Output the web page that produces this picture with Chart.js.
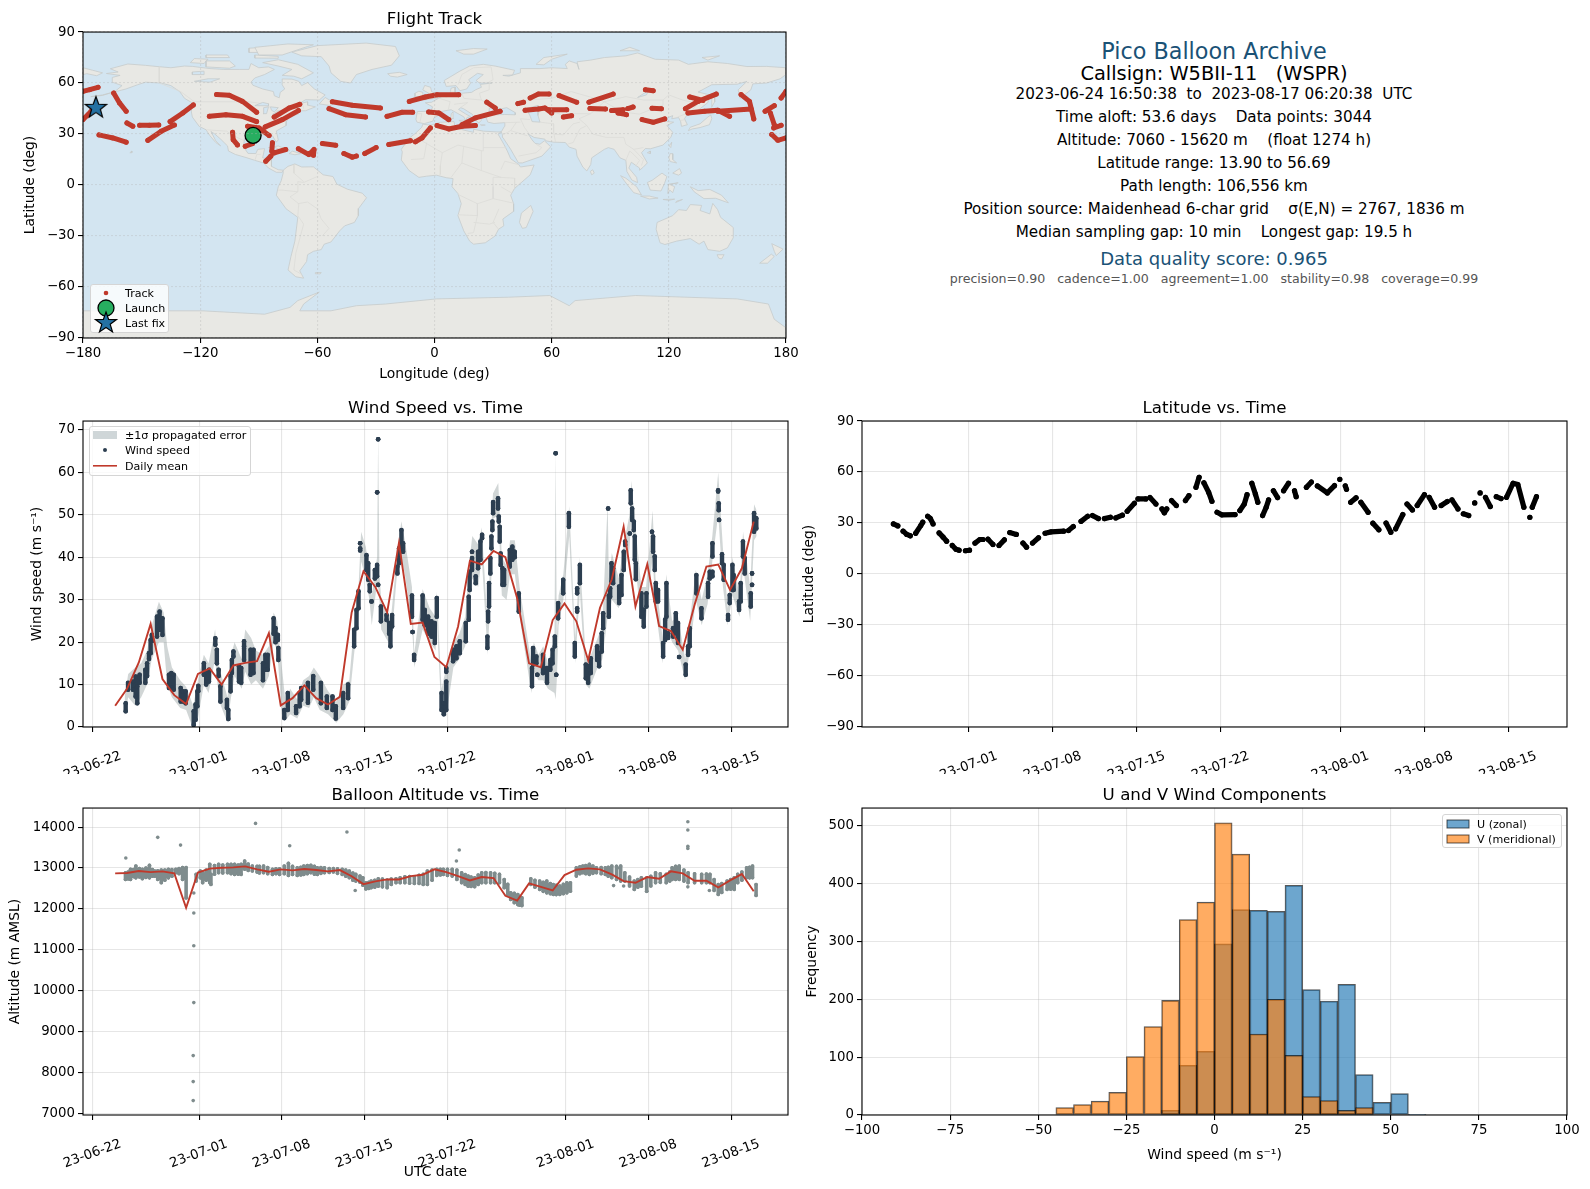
<!DOCTYPE html>
<html>
<head>
<meta charset="utf-8">
<title>Pico Balloon Archive</title>
<script src="https://cdn.jsdelivr.net/npm/chart.js@4"></script>
<style>
html, body { margin: 0; padding: 0; background: #fff; }
body { position: relative; width: 1590px; height: 1189px; overflow: hidden; font-family: "DejaVu Sans", sans-serif; }
canvas { position: absolute; }
.line { position: absolute; left: 1214px; transform: translate(-50%, -50%); white-space: pre; color: #000; }
.legend { position: absolute; background: rgba(255,255,255,.8); border: 1px solid #d5d5d5; border-radius: 3px; box-sizing: border-box; font-size: 11.1px; color: #000; }
.legend div { position: absolute; white-space: pre; transform: translateY(-50%); }
.legend svg { position: absolute; overflow: visible; }
</style>
</head>
<body>
<canvas id="mapChart" width="800" height="392" style="left:0px;top:0px"></canvas>
<canvas id="windChart" width="800" height="385" style="left:0px;top:389px"></canvas>
<canvas id="latChart" width="790" height="385" style="left:800px;top:389px"></canvas>
<canvas id="altChart" width="800" height="413" style="left:0px;top:776px"></canvas>
<canvas id="histChart" width="790" height="413" style="left:800px;top:776px"></canvas>

<div id="info"></div>

<div class="legend" style="left:90px;top:284px;width:79px;height:49px">
  <svg style="left:14px;top:7px" width="2" height="2"><circle cx="1" cy="1" r="2.3" fill="#c0392b"/></svg>
  <div style="left:34px;top:8px">Track</div>
  <svg style="left:15px;top:23px" width="1" height="1"><circle cx="0" cy="0" r="8" fill="#27ae60" stroke="#000" stroke-width="1.3"/></svg>
  <div style="left:34px;top:23px">Launch</div>
  <svg style="left:15px;top:38px" width="1" height="1"><polygon points="0,-11 2.6,-3.5 10.5,-3.4 4.2,1.3 6.5,8.9 0,4.4 -6.5,8.9 -4.2,1.3 -10.5,-3.4 -2.6,-3.5" fill="#2471a3" stroke="#000" stroke-width="1.2"/></svg>
  <div style="left:34px;top:38px">Last fix</div>
</div>
<div class="legend" style="left:89px;top:426px;width:162px;height:50px">
  <svg style="left:3px;top:4px" width="24" height="8"><rect width="24" height="8" fill="#cfd6d8"/></svg>
  <div style="left:35px;top:8px">±1σ propagated error</div>
  <svg style="left:15px;top:23px" width="1" height="1"><circle cx="0" cy="0" r="2" fill="#2c3e50"/></svg>
  <div style="left:35px;top:23px">Wind speed</div>
  <svg style="left:3px;top:38px" width="24" height="2"><rect width="24" height="1.6" fill="#c0392b"/></svg>
  <div style="left:35px;top:39px">Daily mean</div>
</div>
<div class="legend" style="left:1442px;top:814px;width:120px;height:34px">
  <svg style="left:4px;top:5px" width="22" height="8"><rect width="22" height="8" fill="rgba(31,119,180,.65)" stroke="rgba(0,0,0,.65)"/></svg>
  <div style="left:34px;top:9px">U (zonal)</div>
  <svg style="left:4px;top:20px" width="22" height="8"><rect width="22" height="8" fill="rgba(255,127,14,.65)" stroke="rgba(0,0,0,.65)"/></svg>
  <div style="left:34px;top:24px">V (meridional)</div>
</div>

<script>
// ---- data ----
const dateTicks = [0, 9, 16, 23, 30, 40, 47, 54];
const dateLabels = ["23-06-22", "23-07-01", "23-07-08", "23-07-15", "23-07-22", "23-08-01", "23-08-08", "23-08-15"];
const latDateTicks = [9, 16, 23, 30, 40, 47, 54];
const latDateLabels = ["23-07-01", "23-07-08", "23-07-15", "23-07-22", "23-08-01", "23-08-08", "23-08-15"];
const lonTicks = [-180, -120, -60, 0, 60, 120, 180];
const latTicks = [-90, -60, -30, 0, 30, 60, 90];
const windTicks = [0, 10, 20, 30, 40, 50, 60, 70];
const altTicks = [7000, 8000, 9000, 10000, 11000, 12000, 13000, 14000];
const speedTicks = [-100, -75, -50, -25, 0, 25, 50, 75, 100];
const freqTicks = [0, 100, 200, 300, 400, 500];

const infoLines = [
  ["Pico Balloon Archive", 50.7, 22.3, "#1a5276"],
  ["Callsign: W5BII-11   (WSPR)", 73, 19.4, "#000"],
  ["2023-06-24 16:50:38  to  2023-08-17 06:20:38  UTC", 94, 15.2, "#000"],
  ["Time aloft: 53.6 days    Data points: 3044", 117, 15.2, "#000"],
  ["Altitude: 7060 - 15620 m    (float 1274 h)", 140, 15.2, "#000"],
  ["Latitude range: 13.90 to 56.69", 163, 15.2, "#000"],
  ["Path length: 106,556 km", 186, 15.2, "#000"],
  ["Position source: Maidenhead 6-char grid    σ(E,N) = 2767, 1836 m", 209, 15.2, "#000"],
  ["Median sampling gap: 10 min    Longest gap: 19.5 h", 232, 15.2, "#000"],
  ["Data quality score: 0.965", 257.5, 18, "#1a5276"],
  ["precision=0.90   cadence=1.00   agreement=1.00   stability=0.98   coverage=0.99", 278, 12.6, "#555"]
];

// daily means, one per day
const dailyDays = [1.9,2.9,3.9,4.9,5.9,6.9,7.9,8.9,9.9,10.9,11.9,12.9,13.9,14.9,15.9,16.9,17.9,18.9,19.9,20.9,21.9,22.9,23.9,24.9,25.9,26.9,27.9,28.9,29.9,30.9,31.9,32.9,33.9,34.9,35.9,36.9,37.9,38.9,39.9,40.9,41.9,42.9,43.9,44.9,45.9,46.9,47.9,48.9,49.9,50.9,51.9,52.9,53.9,54.9,55.9];
const windDaily = [5,9,15.2,24.3,11.3,7.5,5.4,12.5,13.8,10,14.5,15.1,15.5,22.1,5.1,6.8,9.8,6.8,5.3,7.1,27,36.7,33,27,43.4,24.3,24.6,16.5,14.1,23.7,39.2,38.3,41.5,40,30.3,15,14.1,25.2,29.1,24.9,15.7,28.1,34.8,47.2,28.4,38.4,23.8,22.6,18.2,28.8,37.8,38.3,32.3,37.4,48.4];
const altDaily = [12870,12877,12926,12900,12918,12870,12025,12890,12984,13005,13015,13040,12967,12910,12967,12943,12975,12950,12918,12950,12800,12606,12672,12721,12721,12803,12836,12967,12900,12803,12697,12779,12754,12320,12205,12623,12541,12450,12828,12959,12992,12967,12844,12680,12640,12779,12738,12918,12869,12689,12689,12525,12697,12852,12434];

// wind speed readings: [day, lowest, highest] of each run of samples
const windRuns = [
  [2.79,3.7,5.6],[2.99,8.8,10.4],[3.4,8.8,10.7],[3.63,7.2,11.9],[3.77,5.6,9.6],[3.97,10.4,12.3],[4.45,10.4,13.5],[4.6,12,15],[4.76,16,17.4],[4.9,17.4,20.5],[5,20.2,21.7],
  [5.44,21.3,26],[5.66,22.9,27.2],[5.9,21.7,25.6],[6.45,9.2,12.3],[6.65,9.2,12.7],[6.85,8.8,12.3],[7.44,6,9.2],[7.63,6,8.4],[7.86,5.6,8.4],[8.54,0.5,3.7],[8.7,1.7,5.3],[8.85,4.9,8.4],[8.93,8.4,9.7],
  [9.4,12.3,15],[9.6,10,13],[9.83,10.7,13.5],[10.37,19.4,20.9],[10.5,15,18.2],[10.65,12,13.5],[10.8,6,9.6],[11.35,4.5,6.4],[11.47,1.9,4],[11.66,8.4,12],[11.77,12.7,15.8],[11.9,16.6,17.8],
  [12.37,10.7,14.3],[12.56,10.4,13.9],[12.8,15.8,18.6],[12.8,19,20.2],[13.35,12.3,18.2],[13.6,12.7,18.2],[14.4,11,15],[14.6,13.5,17],[14.8,13.5,17],[15.3,22,25.6],[15.46,20,23.3],[15.66,20.5,21.7],[15.7,15.8,18.6],
  [16.2,2.1,4],[16.5,4,8],[17.2,3.3,4.9],[17.5,4.9,8],[17.63,6.4,9.2],[18.2,5.7,10.4],[18.65,8.8,12],[19.3,5.6,10.4],[19.8,4.5,7.2],[20.28,4,7.2],[20.56,2,4.9],[21.18,4.5,8],[21.6,6.8,10],
  [22.11,19,22.9],[22.31,23.3,27.6],[22.48,28,32],[22.62,41.6,42.1],[22.62,43.3,43.3],[23.15,37,40.5],[23.3,34.7,38.6],[23.43,32,33.5],[23.58,29.6,29.6],[23.86,35,37],[24.05,35.5,38.2],[24.06,55.3,55.3],[24.14,67.8,67.8],[24.14,33.5,33.5],
  [24.37,24.9,28.4],[24.85,25.2,26.4],[25.07,22,24.5],[25.18,19,22.9],[25.32,23.7,26.4],[25.77,36.2,37.8],[25.91,38.6,42.1],[26.11,41.7,46.4],[26.25,41.3,43.3],[27,26,31],[27.05,22.4,22.4],[27.18,15.8,17],
  [27.9,25.3,31],[28.08,24,27.6],[28.37,22,26],[28.65,21.3,24.9],[28.93,19.8,24.5],[29.1,26,30.4],[29.5,4,8],[29.69,3,5.6],[29.9,4,10.7],[29.9,13,13.9],[30.48,15.5,18.2],[30.76,16.2,19],[31.04,17.4,20.2],
  [31.55,20.2,24.5],[31.8,25.3,30.7],[31.88,32.3,36.6],[32.08,37,39.8],[32.08,41.3,41.3],[32.39,33.9,35.5],[32.59,37.4,41.3],[32.79,39.4,43.7],[32.93,44.5,45.3],[33.38,18.6,21.3],[33.44,24.9,27.2],[33.52,28.4,33.9],[33.63,36.2,39.8],[33.72,42.1,44.9],[33.8,46.4,48.4],[33.86,50.4,53],
  [34.28,51.5,53.9],[34.34,48.4,49.6],[34.42,43.7,47.2],[34.5,38.2,40.9],[34.65,33.5,37.4],[34.79,33.5,37],[35.27,37.8,41.7],[35.49,39.4,42.5],[35.69,40,41.3],[36.03,27.2,31.5],[37.15,9.6,13.9],[37.24,14.7,18.6],[37.52,15,16.6],[37.6,12.3,12.3],[38.08,12.7,17],[38.42,10.4,13.9],[38.7,13.5,15.8],
  [38.89,15,18.2],[39.08,19,21.3],[39.15,64.5,64.5],[39.2,12.3,12.3],[39.36,25.6,29.2],[39.79,31.5,34.7],[40.27,47.2,50.4],[40.77,16.6,19.8],[40.97,27.2,28],[40.97,31.5,32.7],[41.2,33.9,38.2],[41.7,11.5,14.7],[41.9,10.4,14.3],[42.12,12.7,16.2],
  [42.66,15.8,19],[42.83,14.3,17.4],[43.05,17.8,22.1],[43.17,23.3,26.8],[43.59,51.5,51.5],[43.65,26,31],[43.76,30.7,32.7],[43.87,34.3,38.6],[44.01,33.9,37.4],[44.52,29.2,33.1],[44.72,31.1,35.8],[44.91,37,41.3],[45.03,42.9,43.7],[45.42,45.6,45.6],
  [45.5,52.7,55.8],[45.62,48.8,51.5],[45.76,46.4,48.4],[45.84,39.4,44.9],[45.93,34.8,38.6],[46.4,26,31.5],[46.6,23.7,27.6],[46.83,28.4,31.5],[47.3,46,46],[47.39,41.3,44.9],[47.53,37,40.2],[47.62,29.6,33.9],[47.81,29.6,32.3],
  [48.24,16.6,19.8],[48.41,20.5,25.3],[48.52,26,33.9],[48.66,21,22.1],[49.08,21.3,23.3],[49.31,22.1,26.8],[49.5,19.8,24.5],[49.59,16.5,16.5],[50.15,12.3,14.7],[50.35,17,19],[50.49,19,23.3],[51.05,31.5,35.8],[51.48,25.6,28],
  [52.04,30.7,33.9],[52.18,35,36.6],[52.41,35.5,36.6],[52.41,40.2,43.3],[52.89,55.5,55.8],[52.94,51.1,52.7],[52.97,48.8,48.8],[53.22,38.6,40.7],[53.36,34.7,38.2],[53.73,25.3,26.4],[53.87,29.2,31.1],[54.1,32.3,38.2],[54.2,32.3,35.8],
  [54.66,27.6,29.6],[54.8,29.6,33.9],[54.99,40.2,43.7],[55.14,36.2,39.8],[55.65,28.4,31.5],[55.76,33.5,33.5],[55.76,36.2,36.2],[55.93,46,50.4],[56.12,46.8,49.2]
];

// propagated error envelope
const bandDays = [2.7,3,3.6,4.1,4.6,5,5.6,6,6.3,6.7,7.4,7.9,8.5,8.9,9.4,9.8,10.35,10.7,11.4,11.7,12,12.6,12.9,13.4,13.8,14.4,14.9,15.3,15.6,16,16.3,16.7,17.3,17.8,18.3,18.7,19.2,19.9,20.6,21.2,21.7,22.1,22.5,22.7,23.1,23.4,23.6,24.05,24.14,24.25,24.4,25,25.2,25.7,26.1,26.4,27,27.2,27.9,28.5,29,29.1,29.5,29.9,30.5,31,31.5,31.9,32.1,32.6,32.9,33.4,33.7,33.85,34.3,34.6,35,35.3,35.7,36.1,37.1,37.3,37.7,38.1,38.5,39.05,39.15,39.25,39.4,39.8,40.3,40.8,41.2,41.7,42,42.7,43.1,43.55,43.65,43.9,44.5,44.9,45.4,45.55,45.9,46.4,46.8,47.35,47.6,48.2,48.5,49,49.5,50.1,50.5,51,51.5,52,52.4,52.9,53.3,53.7,54.1,54.7,55,55.6,55.93,56.15];
const bandLow = [2.6,7,5,7,10,16,20,20,10,7,4.5,4,-0.5,2,10,8,16,6,1,7,12,9,13,10,11,9,12,20,18,3,1.5,3,2,5,4.5,7,4,3,1,3,6,17,27,39,35,30,24,34,33,30,23,20,18,35,40,36,24,14,23,20,18,25,3,2.5,14,16,19,30,35,33,40,17,34,49,50,31,30,36,36,26,8,13,11,11,9,8,6.5,11,24,30,45,15,32,10,9,14,16,26,26,30,28,36,42,50,38,24,26,40,28,15,24,20,18,11,18,30,24,29,39,50,33,24,31,26,38,25,44,45];
const bandHigh = [7,12.5,14,15,18,24,29.5,27,19,14,11,9.5,5,11,17,15,23,14,7,17,20,16,23,21,18,17,19,27,25,14,6,9,6.5,11,12,14,12,8.5,6,10,11,24,34,46,42.5,36,31,40,69,36,30,27,25,39.5,48.5,44,33,17.5,32.5,28,26,32,9,14,20,22,26,40,45,43,47,24,46,55,57.5,40,38,44,44,33,15,20,17,19,15,21,65.5,21,31,36,52,21,40,16,16,21,24,53,35,41,35,43,50,58,47,33,33,51,35,21,36,25,26,16,25,37,30,36,45,60,42,28,40,31,46,33,52.5,51];

// altitude readings: [day, lowest, highest] of each run of samples
const altRuns = [
  [2.77,12720,12885],[3,12730,12900],[3.2,12720,12970],[3.45,12790,12960],[3.65,12760,13050],[3.95,12780,12990],[4.2,12740,12970],[4.5,12770,13000],[4.8,12760,13065],[5.05,12800,12960],[5.25,12800,12925],[5.5,12720,12930],[5.8,12640,12950],[6.1,12700,12950],[6.4,12760,12970],[6.7,12800,12960],[7.03,12885,12970],[7.3,12860,12990],[7.6,12720,13010],[7.9,12270,13010],
  [8.75,12680,12845],[9.1,12760,12925],[9.3,12640,12885],[9.6,12700,12950],[9.9,12640,13090],[10,12598,12844],[10.3,12850,13060],[10.65,12885,13090],[11,12880,13070],[11.4,12885,13090],[11.7,12860,13090],[12,12844,13090],[12.3,12850,13070],[12.55,12844,13090],[12.85,12970,13170],[13.15,12940,13100],[13.5,12926,13049],
  [13.9,12900,13040],[14.1,12880,13040],[14.45,12885,13049],[14.8,12860,13010],[15.2,12844,12967],[15.5,12860,12980],[15.8,12844,12980],[16.2,12860,13050],[16.55,12820,13115],[16.9,12840,13040],[17.3,12820,13008],[17.6,12830,13020],[17.85,12844,13049],[18.15,12860,13060],[18.45,12885,13065],[18.75,12850,13040],[19,12844,13008],[19.3,12870,13010],[19.6,12885,13008],[20,12890,12990],[20.35,12905,12985],[20.7,12870,12980],[21.1,12844,12967],
  [21.4,12800,12950],[21.7,12762,12926],[22,12700,12880],[22.25,12680,12844],[22.6,12655,12803],[22.85,12580,12760],[23.1,12490,12639],[23.35,12500,12650],[23.55,12516,12680],[23.85,12530,12700],[24.15,12557,12737],[24.5,12540,12730],[24.9,12516,12705],[25.25,12600,12730],[25.65,12639,12737],[26,12640,12760],[26.4,12639,12787],[26.8,12630,12790],[27.2,12623,12787],
  [27.6,12620,12820],[27.95,12598,12844],[28.3,12598,12926],[28.7,12700,12950],[29.1,12820,12967],[29.4,12830,12970],[29.65,12844,12967],[30,12820,12970],[30.4,12803,12967],[30.8,12720,12950],[31.2,12639,12885],[31.5,12600,12840],[31.75,12557,12803],[32,12550,12780],[32.3,12541,12762],[32.6,12600,12830],[32.9,12639,12885],[33.25,12640,12890],[33.65,12639,12885],[34,12640,12870],[34.4,12639,12844],[34.8,12516,12721],
  [35.1,12350,12600],[35.35,12229,12393],[35.65,12150,12380],[35.95,12106,12352],[36.1,12090,12300],[36.3,12081,12270],[37.05,12598,12737],[37.4,12530,12700],[37.8,12475,12680],[38.1,12430,12650],[38.4,12393,12680],[38.7,12370,12620],[38.95,12352,12598],[39.2,12350,12580],[39.5,12352,12557],[39.8,12370,12600],[40.1,12393,12639],[40.4,12434,12639],
  [40.9,12803,13008],[41.2,12860,13030],[41.45,12885,13049],[41.7,12860,13060],[42,12844,13090],[42.3,12870,13050],[42.6,12885,13008],[43,12860,13010],[43.35,12844,13008],[43.6,12800,13020],[43.9,12762,13049],[44.3,12720,13040],[44.65,12680,13049],[45,12680,12885],[45.4,12560,12780],[45.8,12475,12680],[46.1,12530,12720],[46.4,12557,12762],[46.85,12434,12762],
  [47.2,12560,12800],[47.6,12639,12885],[48,12650,12860],[48.5,12639,12844],[48.8,12680,12900],[49,12721,13008],[49.3,12720,13040],[49.6,12721,13049],[50,12680,12950],[50.35,12639,12885],[50.9,12640,12860],[51.5,12639,12844],[51.9,12640,12850],[52.2,12639,12844],[52.55,12450,12720],[52.9,12352,12598],[53.2,12400,12620],[53.65,12475,12680],[53.95,12480,12720],[54.25,12475,12762],[54.55,12639,12844],
  [54.9,12700,12900],[55.3,12762,13008],[55.55,12760,13020],[55.8,12762,13049],[56.1,12327,12598]
];
const altOutlierDays = [2.8,5.5,7.43,8.55,8.55,8.55,8.55,8.5,8.5,8.5,13.77,16.66,21.5,22.2,30.76,31,44.05,44.56,44.9,46.85,50.33,50.33,50.33,50.33,50.33,52.15];
const altOutliers = [13244,13750,13560,12390,11900,11100,9710,8415,7780,7315,14090,13545,13880,12450,13170,13440,12570,13000,12560,12430,14130,13930,13530,13480,12540,12450];

// latitude runs: [day, latitude] pairs
const latRuns = [
  [[2.69,29.5],[3.06,28.3]],[[3.5,25.2],[3.8,23.3],[4.1,22.5]],[[4.55,24],[4.97,28.5],[5.14,30.5]],[[5.55,34],[5.76,32.8],[6,29.5]],[[6.5,24.2],[6.84,21.7],[7.13,19.3]],[[7.6,16.8],[7.92,14.5],[8.17,14]],[[8.7,13.7],[9.04,14]],
  [[9.5,18.2],[9.9,20.3],[10.16,20.3]],[[10.58,20.5],[11,17.4]],[[11.5,16.8],[11.95,20.1]],[[12.4,24.4],[12.95,23.3]],[[13.5,18.2],[13.8,15.8]],[[14.3,18.2],[14.8,21.3]],[[15.35,24],[15.85,24.8],[16.9,25.2]],[[17.3,25.6],[17.7,27.9]],
  [[18.35,31],[18.9,34]],[[19.3,34.4],[19.8,32.6]],[[20.3,32.6],[20.8,33.4]],[[21.25,33],[21.8,34.6]],[[22.2,36.9],[22.8,41.6]],[[23.1,44.2],[23.75,44.2]],[[24.1,45],[24.6,41.2]],[[25.1,38.3],[25.3,36],[25.5,38.3]],[[25.9,43.2],[26.3,40.3]],
  [[27.06,43.2],[27.35,46.1]],[[27.94,51],[28.2,56.9]],[[28.6,53.7],[29,48],[29.27,42.8]],[[29.7,36.3],[30.1,34.8],[31.2,35]],[[31.6,37.3],[31.97,41.2],[32.2,46.7]],[[32.6,53.4],[32.9,47],[33.1,42.2]],[[33.5,34.4],[33.8,39.3],[34,43.6]],
  [[34.4,49],[34.75,45]],[[35.25,49],[35.66,53.4]],[[36.16,49],[36.3,45.5]],[[37.15,51],[37.57,54.1]],[[38.07,51.8],[38.9,47.7],[39.5,52]],[[39.94,55.7]],[[40.4,51.8],[40.5,49.8]],[[40.85,42.2],[41.3,44.8]],[[41.7,42.2],[42.3,36.3]],
  [[42.7,29.9],[43.2,26]],[[43.8,30],[44.2,24.6]],[[44.6,26.6],[45.2,35]],[[45.55,41.2],[46,37.7]],[[46.4,40.3],[47,46.7]],[[47.4,45.1],[47.85,39.3]],[[48.4,40.3],[48.9,42.6]],[[49.3,43.6],[49.8,38.3]],[[50.25,35.4],[50.7,34.4]],
  [[51.2,41.8]],[[51.65,47.7]],[[52.1,45.1],[52.5,39.7]],[[53,45.5],[53.4,44.4]],[[53.85,45.1],[54.4,53.4],[54.8,52.6],[55.3,39.3]],[[55.8,33.4]],[[56,39.3],[56.35,45.5]]
];

// flight track runs: [lon, lat] pairs
const trackRuns = [
  [[-180,55.1],[-176.6,56.1],[-172.3,57.5]],[[-180,38.5],[-177.4,41.4],[-174,46]],[[-164.3,54.1],[-161.3,48.3],[-157.9,43.4]],[[-157.5,36.5],[-154.5,34.6]],[[-151,35.2],[-146,35.2],[-141.2,35.3]],[[-135.4,37.3],[-128.9,42.4],[-123.5,47.1]],
  [[-146.8,26.3],[-140,31.6],[-133.2,35.3]],[[-171.8,29.5],[-164.7,27.7],[-157.9,25.2]],[[-111.6,53.2],[-105.1,52.8],[-98.3,49.2],[-91.1,42.8]],[[-115.3,40.4],[-106.8,41.4],[-98.3,40.4],[-91.1,37.3]],[[-103.4,31],[-103.1,26.7],[-100.9,23.6]],
  [[-96.9,22.8],[-93.2,24.4]],[[-95.7,34.6],[-89.8,33.6],[-84.7,29.1]],[[-86.7,34.2],[-77.9,38.5],[-69.7,43.8]],[[-82.1,40],[-74.5,45.3],[-69,47.5]],[[-83,24.8],[-83.3,19.9]],[[-82.1,18.9],[-76.2,20.9]],[[-86.4,14],[-83.8,17]],
  [[-69.7,21.3],[-64.3,17.9],[-61.7,20.9],[-62,17.5]],[[-57.4,24.4],[-50.6,23.4]],[[-46.4,18.5],[-42.1,16.4],[-40,17]],[[-35.7,18.5],[-29.9,22]],[[-23.4,23.8],[-12.3,26]],[[-9.8,25.4],[-6.4,27.7],[-2.1,33.6]],
  [[-52.3,49],[-42.1,46.9],[-27.7,45.3]],[[-54,44.9],[-45.5,41.4],[-35.3,40]],[[-24.3,40.4],[-16.6,42.8],[-11.2,42.8]],[[-12.9,49.2],[-4.7,51.8],[1.3,53.1],[12.4,53.1]],[[-3,43],[2.2,42.4],[7.3,38.5]],
  [[1.3,35],[7.3,33],[14.1,34.6],[20.9,35]],[[14.1,35.5],[20.9,39.5],[33.6,43.4]],[[26.8,48.7],[31.1,45.3]],[[42.7,47.9],[45.6,48.7]],[[49,51.2],[53.2,53.5],[58.7,53.5]],[[46.4,44],[53.2,44.7],[56.6,45.3],[60,42.4]],[[58.3,44.3],[67.7,44.3]],
  [[66,40],[70.2,40.8]],[[63.8,52.6],[72.8,48.7]],[[79.1,48.7],[91.5,53.5]],[[79.6,45],[87.6,44.7]],[[90.7,43.8],[96.6,44.3]],[[99,45],[101.7,45.9]],[[94,42.4],[98.3,41.4]],[[108,56],[112,55.5]],[[111.4,45.1],[116.2,44.9]],[[106.3,38.5],[112,36.9],[117.9,38.9]],
  [[128.5,44.9],[134.9,49.2],[144.3,53.5]],[[130.7,51.8],[137.5,49.8]],[[129.8,42.4],[138.3,43.4],[145.1,44],[151.1,40.4]],[[145.1,43.4],[162.2,44.7]],[[157,53.2],[161.3,49.2],[163.5,38.9]],[[169.3,43.4],[174,46.7]],[[172,42.4],[174,35.5]],[[173.7,33.6],[177.5,35.1]],
  [[172.7,29.7],[175.8,26.3],[180,27.7]],[[177.5,51.2],[180,55.1]]
];
const launchPoint = [-92.9, 29.2];
const lastFixPoint = [-173.4, 46];

// histogram bins, 5 m/s wide, centres
const binCentres = [-97.5,-92.5,-87.5,-82.5,-77.5,-72.5,-67.5,-62.5,-57.5,-52.5,-47.5,-42.5,-37.5,-32.5,-27.5,-22.5,-17.5,-12.5,-7.5,-2.5,2.5,7.5,12.5,17.5,22.5,27.5,32.5,37.5,42.5,47.5,52.5,57.5,62.5,67.5,72.5,77.5,82.5,87.5,92.5,97.5];
const uCounts = [0,0,0,0,0,0,0,0,0,0,0,0,0,0,0,0,0,8,86,110,296,355,354,352,397,217,197,226,70,22,37,1,0,0,0,0,0,0,0,0];
const vCounts = [0,0,0,0,0,0,0,0,0,0,0,13,18,24,39,101,153,198,338,368,505,451,140,200,103,32,25,8,13,0,0,0,0,0,0,0,0,0,0,0];

// land outlines, [lon, lat]
const landNorthAmerica = [[-168,65.6],[-162,66.5],[-166,68.4],[-157,71.2],[-148,70.4],[-141,69.6],[-135,69],[-128,70],[-124,69.8],[-115,68.5],[-108,68],[-100,68],[-95,68],[-94,71.5],[-90,69],[-85,69.5],[-82,68],[-87,65],[-92,63],[-94,60.5],[-93,58.7],[-88,56.5],[-82.5,55],[-82,52.5],[-79.5,51.3],[-79,54.5],[-76.7,56.5],[-78,59],[-78,62.4],[-73,62.3],[-69.5,61],[-68,58.5],[-65,60.3],[-61.5,56.5],[-56,53],[-59,50],[-66,50.2],[-70,47.5],[-65,49],[-65,47],[-61,46],[-66,43.7],[-70,43.7],[-70,41.6],[-74,40.5],[-75.8,37.5],[-76,35],[-81,31.8],[-80,26.5],[-81,25.2],[-83,29],[-85,29.7],[-89.5,29.5],[-94,29.5],[-97.3,27.5],[-97.8,22.5],[-95.5,18.6],[-91.5,18.5],[-90.5,21],[-87,21.4],[-88,16],[-83.5,15],[-83.5,11],[-80,9],[-77.5,8.7],[-78,7.5],[-81,7.5],[-85,10],[-87.5,13],[-92,14.5],[-96,16],[-102,18],[-105.5,20],[-106,23],[-109.5,27],[-112.5,30],[-114.5,31.5],[-112,26],[-109.5,23],[-112,25],[-115,29],[-117,32.5],[-120.5,34.5],[-124,40],[-124.5,43],[-124,48.3],[-128,51],[-130.5,55],[-135,58.5],[-140,60],[-148,60.5],[-152,59],[-158,56.5],[-164,54.7],[-160,58.5],[-165,60.5],[-165,63.3],[-161,64.5],[-168,65.6]];
const landSouthAmerica = [[-77.5,8.7],[-75,11],[-71.5,12.4],[-68,10.6],[-62,10.7],[-57,6],[-52,5],[-50,0.5],[-44.5,-2.5],[-37,-4.8],[-34.8,-7.5],[-39,-14],[-39,-18],[-41,-22],[-46,-24],[-48.6,-27],[-53,-33.5],[-56.5,-34.8],[-58,-38],[-62,-39],[-65,-41],[-65.5,-45],[-69,-50.5],[-67,-54.8],[-71,-54],[-75,-50],[-73.5,-42],[-71.5,-33],[-70,-19],[-76,-14],[-81,-6],[-80,-1],[-78.5,2.5],[-77.5,7],[-77.5,8.7]];
const landEurasia = [[-9,37],[-9.5,38.7],[-8.8,43.2],[-1.8,43.4],[-1,46],[-4.7,48.4],[-1.5,48.7],[2,51],[4.5,52.5],[8,54],[8.5,57],[10.6,57.6],[10.5,54.3],[14,54],[19,54.5],[21,56],[24,57.5],[23.5,59.2],[29.5,60],[23,60],[21.3,61.5],[25,65],[22,65.7],[17.5,62],[18.5,60],[16.5,56.5],[13,55.5],[11,58.5],[6,58],[5,61.5],[13,67],[18,70],[25,71],[31,70],[41,67.5],[40,64.7],[35,64.5],[38,64],[44,66],[44,68.5],[54,68.5],[60,69],[68,68.5],[67,71],[69,73],[73,71.5],[74,68],[73,72.5],[80,73.5],[87,75],[98,76],[104,77.7],[113,74],[125,73.5],[130,71],[140,72.5],[150,71.5],[160,69.7],[170,69.8],[180,69],[180,65],[177,62.5],[170,60],[163,59.5],[162,56],[156.5,51],[155.5,56],[160,61],[155,59.3],[142,59],[135,54.7],[141,53],[140,48.5],[135,44],[130,42.5],[128,39],[129.5,35.5],[126.5,34.5],[126,37.5],[125,39.7],[121.5,39],[122,40.8],[118,39],[119,37.3],[122.5,37],[119,35],[122,31],[121,28],[117,23.5],[110.5,21.3],[108,21.5],[106,19],[109,13],[106.7,10.3],[105,8.7],[105,10],[100.8,13.4],[99.5,10],[103.5,4.5],[104,1.4],[101,3],[98.5,8],[98,14.5],[95,16],[92,21],[89,22],[87,21],[80.5,16],[80,12],[78,8.3],[76,10.5],[73,17],[72.5,21],[69,22.3],[67,25],[61,25.2],[57,26],[56.5,27],[51,28],[48,30],[50,26.5],[51.5,24.5],[54,24],[56.3,26],[59.5,22.5],[55,17],[45,13],[43,13],[39,21],[35,28],[34.8,29.5],[34.2,31.3],[35.8,34.5],[36,36.7],[30.5,36.2],[27.3,37],[26.3,40],[23.5,40.2],[24,38],[22.7,36.6],[21.2,38],[19.5,41.5],[15,44.8],[13.5,45.5],[12.3,44.5],[16,41.8],[18.5,40.2],[16.7,39.8],[16,38],[15,40.1],[10.5,43],[8.5,44.3],[3.5,43.3],[3,41.7],[-0.3,39.5],[-0.8,37.6],[-5.3,36.1],[-9,37]];
const landChukotka = [[-180,69],[-175,67.5],[-170,66],[-173,64.3],[-178,65.5],[-180,65]];
const landAfrica = [[-6,35.8],[-2,35.2],[3,36.9],[10,37.3],[10.5,34],[15,32.3],[20,31],[20,32.8],[25,31.7],[32.5,31.2],[34.2,31.3],[32.5,30],[35.5,24],[37.3,20],[39,15.5],[43.2,12],[44,10.6],[51,11.8],[49,6],[41,-2],[39,-6],[40.5,-11],[40.5,-15.5],[35,-20],[35.5,-24],[32.8,-26],[31,-30],[26,-34],[20,-34.8],[18,-33],[15,-27],[12,-18],[13.7,-11],[12,-5],[9,-1],[9.5,3.8],[6,4.3],[1,5.8],[-4,5.2],[-8,4.5],[-13,8.5],[-17,14.7],[-16.5,19.5],[-17,21],[-13,27.5],[-9.7,30.5],[-6.5,34],[-6,35.8]];
const landGreenland = [[-73,78.2],[-60,82],[-35,83.5],[-20,81.5],[-18,76],[-22,70.5],[-32,68],[-40,65],[-43,60],[-48,61],[-53,66],[-54,70],[-58,75.5],[-68,76],[-73,78.2]];
const landAustralia = [[114,-22],[113.5,-26],[115.5,-34],[118,-35],[124,-33],[131,-31.5],[135.5,-34.8],[138,-33],[140,-38],[146,-39],[150,-37],[153,-31],[153,-25],[146.5,-19],[145,-14.5],[142.5,-10.8],[141,-17],[136,-15],[136.8,-12],[131,-11.5],[129,-15],[125,-14.5],[122,-18],[114,-22]];
const landAntarctica = [[-180,-74],[-150,-74],[-119,-74],[-87,-76],[-74,-72],[-70,-68],[-59,-63],[-67,-70],[-69,-74],[-53,-74],[-40,-71],[-25,-70],[1,-67],[38,-66],[59,-65],[69,-71],[72,-68],[103,-65],[155,-67],[171,-70],[174,-79],[180,-84],[180,-90],[-180,-90]];
const landIslands = [
  [[-5.5,50],[1.3,51.2],[1.7,52.7],[-1.5,55],[-2,57.5],[-5,58.6],[-6,56],[-3,54],[-5,52],[-5.5,50]],
  [[-10,52],[-6,52.2],[-6,54.5],[-8,55.2],[-10,54]],
  [[-24,65.5],[-18,66.3],[-14,65],[-19,63.5],[-22.5,64]],
  [[11,79],[20,80.3],[27,80],[20,77],[15,77]],
  [[52,71],[56,75],[68,77],[60,74],[56,70.7]],
  [[130,32],[131,34],[136,36],[140,40],[141.5,41.2],[142,39],[140.8,35.5],[136,33.8],[132,33]],
  [[140,42],[141.7,45.4],[145,43.5],[143,42]],
  [[142,46],[142,54],[143.3,52],[143.5,49]],
  [[120.2,23],[121.5,25.2],[121,22]],
  [[109,19],[110.5,20],[110.5,18.5]],
  [[120,16],[120.7,18.5],[122,18.4],[122,15],[124,13],[120.7,13.8]],
  [[122,7],[125.5,9.7],[126.5,7],[125,5.8]],
  [[109,1.5],[111.5,2.8],[116.5,7],[119,5],[117.8,1],[116,-3.5],[110.5,-3]],
  [[95.3,5.5],[98,4],[103.5,-1],[106,-5.8],[102,-4.5],[98.5,0.5]],
  [[105.5,-6.5],[110,-6.5],[114.5,-7.7],[110,-8.2]],
  [[119.5,-5],[119.8,0.5],[124.8,1.3],[120.5,0.3],[123,-1],[122,-4.5],[120.5,-3]],
  [[131,-1],[135,-3.3],[141,-2.6],[147,-6],[150.5,-10.5],[144,-7.8],[138,-8],[133,-4]],
  [[79.8,8],[81,9],[81.8,7],[80.5,6]],
  [[49.3,-12],[50.5,-15.5],[47,-25],[45,-25.5],[43.5,-22],[44.5,-16.5]],
  [[172.7,-34.5],[178.5,-37.7],[175,-41.5],[174,-39]],
  [[172.5,-40.7],[174,-42],[170.5,-46],[166.5,-46]],
  [[144.7,-41],[148.3,-41],[147,-43.5],[145.5,-43]],
  [[-85,22],[-80,23],[-74.2,20.2],[-77.5,19.9],[-82,22.3]],
  [[-74.4,18.5],[-72.8,19.9],[-68.4,18.5],[-71.5,17.8]],
  [[-62,66],[-68,62.5],[-72,64],[-78,64.5],[-73,68],[-80,70],[-88,72],[-80,73.7],[-70,71]],
  [[-117,69.5],[-105,68.7],[-102,70],[-105,73],[-117,73]],
  [[-90,76.5],[-78,76.5],[-65,81.5],[-62,82.5],[-75,83],[-92,81]],
  [[-125,72],[-118,71.5],[-116,74],[-123,74.4]],
  [[-117,75],[-105,75],[-106,76.5],[-117,76.5]],
  [[-92,74.7],[-80,74.6],[-80,75.7],[-92,76.5]],
  [[-95,78],[-88,78],[-87,81],[-95,80.5]],
  [[-59,47.7],[-53,46.7],[-53,49.5],[-56,51.5]],
  [[-61,-51.5],[-58,-51.5],[-58.5,-52.3],[-61,-52.2]],
  [[-156,19],[-155,20],[-155,19]],
  [[95,79],[105,79],[100,81]],
  [[137,75],[146,76],[140,73.5]],
  [[124,-9.5],[127,-8.5],[123.5,-10.3]],
  [[117,-8.5],[123,-8.3],[120,-9]],
  [[12.5,38],[15.5,38.2],[15,36.7]],
  [[8.3,39],[9.7,39.2],[9.5,43],[8.6,42]],
  [[23.5,35.5],[26,35.3],[24,35]],
  [[-176,52],[-170,52.7],[-165,54.5],[-170,53]]
];
// seas and lakes
const waterBodies = [
  [[47,45],[53,46.8],[53,41],[54,37],[50,37.3],[49,40.5]],
  [[28,41.5],[28,45],[31,46.5],[33.5,44.7],[37,45.5],[41.5,42.5],[41.3,41.3],[36,41.5],[31,41.3]],
  [[-92,46.7],[-88,48.6],[-85,47.8],[-85,46.6]],
  [[-87.8,42],[-87.5,45.5],[-85,46],[-86,42]],
  [[-84,46],[-80,45.5],[-82,43],[-83.5,44]],
  [[-83,41.5],[-79,42.7],[-79,43.2],[-76,43.5],[-76.5,44.2],[-80,43.6]],
  [[104,51.5],[109.8,55.8],[108.5,53]],
  [[-123,61],[-115,60.5],[-110,62.5],[-116,62.5]],
  [[-124,65],[-118,65],[-118,67],[-124,66.5]]
];
// country borders
const borderLines = [
  [[-141,69.6],[-141,60],[-130,55],[-123,49],[-95,49],[-89,48],[-82.5,45],[-79,43],[-75,45],[-71,45],[-67.5,47],[-67,45]],
  [[-117,32.5],[-106.5,31.7],[-103,29],[-97.3,26]],[[-92,14.5],[-91,18],[-89,18]],
  [[-70,-18],[-69.5,-11],[-74,-7],[-70,-4],[-70,2],[-67,1.5],[-60,5]],[[-57.5,-30],[-54,-25.5],[-58,-20],[-60,-14],[-65,-10],[-70,-11]],[[-70,-18],[-67,-23],[-71,-40],[-72,-50],[-68,-52.5]],[[-70,-4],[-78,-3],[-80,-3]],[[-72,12],[-72,7],[-67,2]],
  [[-1,35],[-2,32],[-8.7,27.5],[4,19],[12,23.5],[25,20],[25,31.7]],[[-8.7,27.5],[-13,27.5]],[[25,22],[36.8,22]],[[24,8.5],[24,20]],[[4,19],[3,11.5],[3,6.2]],[[-12,15],[-5.5,15.5],[-4,25]],[[15,23],[14,13],[8.5,4.5]],[[14,13],[24,8.5],[34,4.5],[41,4],[41,-2]],[[34,9],[36,14],[43,12]],
  [[30,-1],[30,4.5],[34,4.5]],[[30,-1],[30,-8],[22,-11],[12,-5.5]],[[22,-11],[22,-18],[12,-17.5]],[[22,-18],[20,-28],[17,-28.5]],[[34,-1],[39.5,-4.7]],[[30,-8],[40.5,-10.7]],[[33,-14],[30,-22],[32.8,-26]],[[20,-22],[28,-23],[31,-22]],
  [[-1.8,43.4],[3,42.4]],[[-9,42],[-6.5,42],[-7.4,37.2]],[[2.5,51],[8,49],[7,44]],[[6,51.5],[7,53.5]],[[8,54.8],[10,54.8]],[[14,54],[15,51],[24,50],[23,54]],[[10,47.5],[17,48.5],[13.5,45.7]],[[23,54],[28,56],[28,60]],[[24,50],[30,46]],[[22.5,41],[28,42]],
  [[12,59],[14,65],[20,69],[29,69.5]],[[29,69.5],[30,62],[27.8,60.5]],[[47,50],[60,51],[70,55],[85,50],[87,49]],[[87,49],[98,52],[107,50],[117,50],[120,53],[127,50],[135,48],[131,43]],[[87,49],[96,43],[105,41.7],[112,45],[117,47],[117,50]],
  [[87,49],[80,42],[74,39],[78,35],[81,30],[88,28],[97,28],[98,24],[102,21],[107,22]],[[53,42],[56,45],[66,41],[72,42],[80,42]],[[44,39],[46,34],[48.5,30]],[[44,39],[49,38.5]],[[54,37],[61,36],[61,31],[62,25.3]],[[61,30],[66,29.5],[71,36],[74.5,37]],[[68,24],[71,25],[74.5,33],[78,35]],
  [[36,36.7],[44,37]],[[39,32],[47.5,29]],[[35,29.5],[39,32],[42,37]],[[43,17],[52,19],[55,22],[52,24]],[[102,21],[107,15],[106,11.5]],[[98,14.5],[100,20],[102,18],[105,14.5],[103,11]],[[124.5,40],[130,42.5]],[[126,38],[128.5,38.5]]
];

// ---- colours and fonts ----
const RED = "#c0392b", NAVY = "#2c3e50", SLATE = "#7f8c8d", GRIDCOL = "rgba(176,176,176,.32)";
const OCEAN = "#d3e5f1", LAND = "#e8e8e4", COAST = "#c6cbcc", BORDERCOL = "#dcdcd8";
const TICKFONT = {size: 13.3};
Chart.defaults.font.family = "'DejaVu Sans'";
Chart.defaults.font.size = 13.9;
Chart.defaults.color = "#000";
Chart.defaults.animation = false;

// info panel text
const infoBox = document.getElementById("info");
infoLines.forEach(function (row) {
  const el = document.createElement("div");
  el.className = "line";
  el.textContent = row[0];
  el.style.top = row[1] + "px";
  el.style.fontSize = row[2] + "px";
  el.style.color = row[3];
  infoBox.appendChild(el);
});

// ---- helpers ----
function joinRuns(runs) {
  var out = [];
  runs.forEach(function (run) {
    run.forEach(function (p) { out.push({x: p[0], y: p[1]}); });
    out.push({x: run[0][0], y: null});
  });
  return out;
}
function runsToPoints(runs) {
  var out = [];
  runs.forEach(function (r) {
    out.push({x: r[0], y: r[1]}, {x: r[0], y: r[2]}, {x: r[0], y: null});
  });
  return out;
}
function pairs(xs, ys) {
  return xs.map(function (x, i) { return {x: x, y: ys[i]}; });
}
function minusSign(v) {
  return String(v).replace("-", "\u2212");
}
function polygon(points, fillColor, lineColor) {
  return {
    data: points.map(function (p) { return {x: p[0], y: p[1]}; }).concat([{x: points[0][0], y: points[0][1]}]),
    showLine: true, fill: "shape", backgroundColor: fillColor, borderColor: lineColor,
    borderWidth: 0.8, pointRadius: 0
  };
}
const frame = {
  id: "frame",
  afterDraw: function (chart) {
    const a = chart.chartArea, c = chart.ctx;
    c.save();
    c.strokeStyle = "#000";
    c.lineWidth = 1.1;
    c.strokeRect(a.left, a.top, a.right - a.left, a.bottom - a.top);
    c.restore();
  }
};
const oceanBackground = {
  id: "ocean",
  beforeDatasetsDraw: function (chart) {
    const a = chart.chartArea;
    chart.ctx.fillStyle = OCEAN;
    chart.ctx.fillRect(a.left, a.top, a.right - a.left, a.bottom - a.top);
  }
};
function axisX(o) {
  return {
    type: "linear", min: o.min, max: o.max, offset: false,
    grid: {offset: false, color: GRIDCOL, lineWidth: 1.1, tickColor: "#000", tickLength: 5, tickWidth: 1.1, z: o.gridZ || 0},
    border: {display: false, dash: o.dash},
    title: o.title ? {display: true, text: o.title, font: {size: 13.9}, padding: {top: 0, bottom: o.titleGap}} : {display: false},
    ticks: {
      autoSkip: false, font: TICKFONT, padding: o.labels ? 16 : 3, minRotation: o.labels ? 20 : 0, maxRotation: o.labels ? 20 : 0,
      labelOffset: o.labels ? 28 : 0,
      callback: o.labels ? function (v, i) { return o.labels[i]; } : minusSign
    },
    afterBuildTicks: function (s) { s.ticks = o.ticks.map(function (v) { return {value: v}; }); },
    afterFit: function (s) { s.height = o.height; s.paddingLeft = s.paddingRight = s.paddingTop = s.paddingBottom = 0; }
  };
}
function axisY(o) {
  return {
    type: "linear", min: o.min, max: o.max,
    grid: {color: GRIDCOL, lineWidth: 1.1, tickColor: "#000", tickLength: 5, tickWidth: 1.1, z: o.gridZ || 0},
    border: {display: false, dash: o.dash},
    title: {display: true, text: o.title, font: {size: 13.9}, padding: {top: o.titleGap, bottom: 0}},
    ticks: {autoSkip: false, font: TICKFONT, padding: 3, callback: minusSign},
    afterBuildTicks: function (s) { s.ticks = o.ticks.map(function (v) { return {value: v}; }); },
    afterFit: function (s) { s.width = o.width; s.paddingLeft = s.paddingRight = s.paddingTop = s.paddingBottom = 0; }
  };
}
function panelOptions(titleText, rightGap, x, y) {
  return {
    responsive: false,
    devicePixelRatio: 1,
    layout: {padding: {left: 0, top: 0, right: rightGap, bottom: 0}},
    plugins: {
      legend: {display: false},
      tooltip: {enabled: false},
      title: {display: true, text: titleText, fullSize: false, font: {size: 16.7, weight: "normal"}, color: "#000", padding: {top: 9.5, bottom: 2.5}}
    },
    scales: {x: x, y: y}
  };
}

// ---- flight track map ----
function starImage(fill) {
  const cv = document.createElement("canvas");
  cv.width = 26; cv.height = 26;
  const c = cv.getContext("2d");
  c.translate(13, 14);
  c.beginPath();
  for (var i = 0; i < 10; i++) {
    const r = i % 2 ? 4.6 : 11.2, a = -Math.PI / 2 + i * Math.PI / 5;
    c.lineTo(r * Math.cos(a), r * Math.sin(a));
  }
  c.closePath();
  c.fillStyle = fill; c.fill();
  c.strokeStyle = "#000"; c.lineWidth = 1.2; c.stroke();
  return cv;
}
const mapSets = [
  {data: [{x: lastFixPoint[0], y: lastFixPoint[1]}], pointStyle: starImage("#2471a3"), pointRadius: 13},
  {data: [{x: launchPoint[0], y: launchPoint[1]}], pointRadius: 8, backgroundColor: "#27ae60", borderColor: "#000", borderWidth: 1.3},
  {data: joinRuns(trackRuns), showLine: true, spanGaps: false, borderColor: RED, backgroundColor: RED, borderWidth: 5, borderCapStyle: "round", borderJoinStyle: "round", pointRadius: 2.5, pointBorderWidth: 0}
];
waterBodies.forEach(function (w) { mapSets.push(polygon(w, OCEAN, COAST)); });
mapSets.push({data: joinRuns(borderLines), showLine: true, spanGaps: false, borderColor: BORDERCOL, borderWidth: 0.8, pointRadius: 0});
[landNorthAmerica, landSouthAmerica, landEurasia, landChukotka, landAfrica, landGreenland, landAustralia, landAntarctica].concat(landIslands).forEach(function (shape) {
  mapSets.push(polygon(shape, LAND, COAST));
});
new Chart(document.getElementById("mapChart"), {
  type: "scatter",
  data: {datasets: mapSets},
  options: panelOptions("Flight Track", 12,
    axisX({min: -180, max: 180, ticks: lonTicks, height: 54, title: "Longitude (deg)", titleGap: 9.7, gridZ: 1, dash: [2, 2]}),
    axisY({min: -90, max: 90, ticks: latTicks, width: 83, title: "Latitude (deg)", titleGap: 22, gridZ: 1, dash: [2, 2]})),
  plugins: [oceanBackground, frame]
});

// ---- wind speed ----
new Chart(document.getElementById("windChart"), {
  type: "scatter",
  data: {datasets: [
    {data: pairs(dailyDays, windDaily), showLine: true, borderColor: RED, borderWidth: 1.9, pointRadius: 0},
    {data: runsToPoints(windRuns), showLine: true, spanGaps: false, borderColor: NAVY, backgroundColor: NAVY, borderWidth: 4.4, borderCapStyle: "round", pointRadius: 2.3, pointBorderWidth: 0},
    {data: pairs(bandDays, bandHigh), showLine: true, fill: "+1", backgroundColor: "rgba(127,140,141,.36)", borderWidth: 0, pointRadius: 0},
    {data: pairs(bandDays, bandLow), showLine: true, borderWidth: 0, pointRadius: 0}
  ]},
  options: panelOptions("Wind Speed vs. Time", 12,
    axisX({min: -0.82, max: 58.8, ticks: dateTicks, labels: dateLabels, height: 47}),
    axisY({min: 0, max: 72.1, ticks: windTicks, width: 83, title: "Wind speed (m s\u207B\u00B9)", titleGap: 29})),
  plugins: [frame]
});

// ---- latitude ----
new Chart(document.getElementById("latChart"), {
  type: "scatter",
  data: {datasets: [
    {data: joinRuns(latRuns), showLine: true, spanGaps: false, borderColor: "#000", backgroundColor: "#000", borderWidth: 5.2, borderCapStyle: "round", borderJoinStyle: "round", pointRadius: 2.6, pointBorderWidth: 0}
  ]},
  options: panelOptions("Latitude vs. Time", 23,
    axisX({min: 0.07, max: 58.9, ticks: latDateTicks, labels: latDateLabels, height: 47}),
    axisY({min: -90, max: 90, ticks: latTicks, width: 62, title: "Latitude (deg)", titleGap: 0.7})),
  plugins: [frame]
});

// ---- altitude ----
new Chart(document.getElementById("altChart"), {
  type: "scatter",
  data: {datasets: [
    {data: pairs(dailyDays, altDaily), showLine: true, borderColor: RED, borderWidth: 1.9, pointRadius: 0},
    {data: runsToPoints(altRuns), showLine: true, spanGaps: false, borderColor: SLATE, backgroundColor: SLATE, borderWidth: 3.6, borderCapStyle: "round", pointRadius: 1.8, pointBorderWidth: 0},
    {data: pairs(altOutlierDays, altOutliers), backgroundColor: SLATE, pointRadius: 1.8, pointBorderWidth: 0}
  ]},
  options: panelOptions("Balloon Altitude vs. Time", 12,
    axisX({min: -0.82, max: 58.8, ticks: dateTicks, labels: dateLabels, height: 74, title: "UTC date", titleGap: 8.7}),
    axisY({min: 6963, max: 14466, ticks: altTicks, width: 83, title: "Altitude (m AMSL)", titleGap: 7})),
  plugins: [frame]
});

// ---- wind components ----
new Chart(document.getElementById("histChart"), {
  type: "bar",
  data: {datasets: [
    {label: "V (meridional)", data: pairs(binCentres, vCounts), backgroundColor: "rgba(255,127,14,.65)", borderColor: "rgba(0,0,0,.65)"},
    {label: "U (zonal)", data: pairs(binCentres, uCounts), backgroundColor: "rgba(31,119,180,.65)", borderColor: "rgba(0,0,0,.65)"}
  ]},
  options: Object.assign(panelOptions("U and V Wind Components", 23,
    axisX({min: -100, max: 100, ticks: speedTicks, height: 74, title: "Wind speed (m s\u207B\u00B9)", titleGap: 25.7}),
    axisY({min: 0, max: 530.6, ticks: freqTicks, width: 62, title: "Frequency", titleGap: 3.7})), {
    grouped: false, barThickness: 17.63,
    elements: {bar: {borderWidth: 1.1, borderSkipped: false}}
  }),
  plugins: [frame]
});
</script>
</body>
</html>
